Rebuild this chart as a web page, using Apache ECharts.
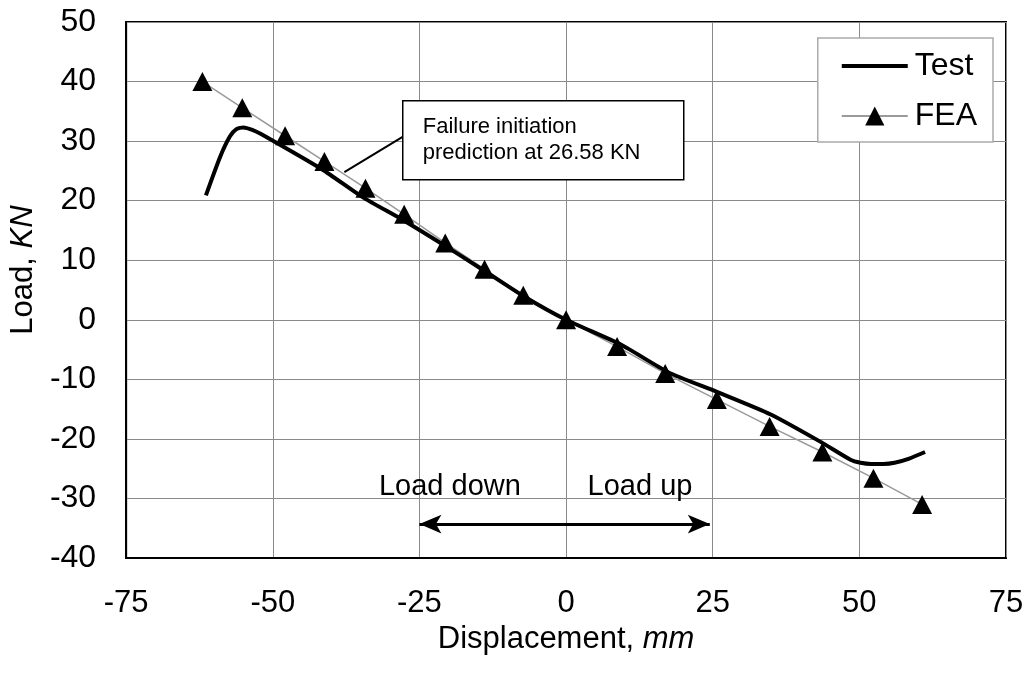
<!DOCTYPE html>
<html>
<head>
<meta charset="utf-8">
<script src="https://cdn.jsdelivr.net/npm/echarts@6/dist/echarts.min.js"></script>
<style>
html,body{margin:0;padding:0;background:#fff;}
#chart{width:1034px;height:675px;}
</style>
</head>
<body>
<div id="chart"></div>
<script>
// ---- data ----
const feaX = [-62, -55.2, -47.9, -41.2, -34.2, -27.6, -20.6, -13.9, -7.3, 0, 8.7, 16.9, 25.7, 34.7, 43.7, 52.4, 60.7];
const feaY = [40, 35.6, 30.9, 26.58, 22.1, 17.7, 12.9, 8.5, 4.1, 0, -4.5, -9.0, -13.4, -17.9, -22.2, -26.6, -31.0];
const testX = [-61.4, -59, -57.3, -56.2, -55, -53.5, -52, -41.5, -34.7, -27.9, -20.6, -13.9, -7.3, 0, 9.4, 17.4, 25.7, 34.9, 43.4, 48.5, 50.2, 52, 54.1, 56, 58.5, 61.2];
const testY = [20.9, 27.3, 30.8, 32.0, 32.3, 31.9, 31.2, 25.2, 20.6, 16.8, 12.4, 8.2, 4.0, 0, -4.2, -8.8, -12.1, -15.9, -20.5, -23.5, -24.0, -24.2, -24.2, -24.0, -23.3, -22.2];
const xTicks = [-75, -50, -25, 0, 25, 50, 75];
const yTicks = [-40, -30, -20, -10, 0, 10, 20, 30, 40, 50];
const leaderLine = [[-37.8, 24.8], [-25.9, 31.9]];
const loadArrow = [[-25, -34.3], [24.5, -34.3]];
const loadLabels = [{text: 'Load down', x: -19.8, y: -28.1}, {text: 'Load up', x: 12.6, y: -28.1}];
const annotation = ['Failure initiation', 'prediction at 26.58 KN'];

const FONT = 'Liberation Sans, Arial, sans-serif';
const chart = echarts.init(document.getElementById('chart'));

const option = {
  backgroundColor: '#fff',
  animation: false,
  textStyle: {fontFamily: FONT, color: '#000'},
  grid: {left: 123, right: 28, top: 22, bottom: 117, show: true, borderColor: '#000', borderWidth: 2},
  legend: {
    data: [
      {name: 'Test', itemStyle: {opacity: 0}, lineStyle: {color: '#000', width: 4}},
      {name: 'FEA'}
    ],
    orient: 'vertical',
    right: 41, top: 38,
    padding: [12, 16, 10, 22],
    itemGap: 18,
    itemWidth: 66, itemHeight: 24,
    backgroundColor: '#fff',
    borderColor: '#aaa', borderWidth: 1.5,
    textStyle: {fontSize: 32, fontFamily: FONT, color: '#000', padding: [0, 0, 0, 2]}
  },
  xAxis: {
    type: 'value', min: -75, max: 75, interval: 25,
    name: 'Displacement, {i|mm}', nameLocation: 'middle', nameGap: 62,
    nameTextStyle: {fontSize: 31, fontFamily: FONT, color: '#000', rich: {i: {fontSize: 31, fontStyle: 'italic', fontFamily: FONT}}},
    axisLine: {show: true, onZero: false, lineStyle: {color: '#000', width: 2}},
    axisTick: {show: false},
    axisLabel: {fontSize: 31, margin: 30, color: '#000', fontFamily: FONT,
      formatter: v => xTicks.includes(v) ? String(v) : ''},
    splitLine: {show: true, lineStyle: {color: '#8a8a8a', width: 1}}
  },
  yAxis: {
    type: 'value', min: -40, max: 50, interval: 10,
    name: 'Load, {i|KN}', nameLocation: 'middle', nameGap: 76, nameRotate: 90,
    nameTextStyle: {fontSize: 31, fontFamily: FONT, color: '#000', padding: [0, 0, 0, 40], rich: {i: {fontSize: 31, fontStyle: 'italic', fontFamily: FONT}}},
    axisLine: {show: true, onZero: false, lineStyle: {color: '#000', width: 2}},
    axisTick: {show: false},
    axisLabel: {fontSize: 32, margin: 30, color: '#000', fontFamily: FONT,
      formatter: v => yTicks.includes(v) ? String(v) : ''},
    splitLine: {show: true, lineStyle: {color: '#8a8a8a', width: 1}}
  },
  series: [
    {
      name: 'FEA', type: 'line',
      data: feaX.map((x, i) => [x, feaY[i]]),
      symbol: 'triangle', symbolSize: [20, 19],
      itemStyle: {color: '#000'},
      lineStyle: {color: '#9a9a9a', width: 1.5},
      z: 3
    },
    {
      name: 'Test', type: 'line',
      data: testX.map((x, i) => [x, testY[i]]),
      symbol: 'none', smooth: 0.2,
      lineStyle: {color: '#000', width: 4},
      itemStyle: {color: '#000'},
      z: 4,
      markLine: {
        silent: true, symbol: ['none', 'none'], animation: false,
        lineStyle: {color: '#000', width: 2, type: 'solid'},
        label: {show: false},
        data: [[{coord: leaderLine[0]}, {coord: leaderLine[1]}]]
      }
    },
    {
      name: 'arrow', type: 'line', data: [],
      markLine: {
        silent: true, symbol: ['arrow', 'arrow'], symbolSize: [14, 22], animation: false,
        lineStyle: {color: '#000', width: 3, type: 'solid'},
        itemStyle: {color: '#000'},
        label: {show: false},
        data: [[{coord: loadArrow[0]}, {coord: loadArrow[1]}]]
      },
      markPoint: {
        silent: true, symbol: 'circle', symbolSize: 0, animation: false,
        label: {show: true, position: 'inside', fontSize: 29, color: '#000', fontFamily: FONT,
          formatter: p => p.name},
        data: loadLabels.map(d => ({name: d.text, coord: [d.x, d.y]}))
      }
    }
  ],
  graphic: [
    {
      type: 'group', left: 402, top: 100,
      children: [
        {type: 'rect', shape: {x: 0, y: 0, width: 281, height: 79},
         style: {fill: '#fff', stroke: '#000', lineWidth: 1.5}, z: 10},
        {type: 'text', left: 20, top: 13, z: 11,
         style: {text: annotation.join('\n'), font: '22px ' + FONT, fill: '#000', lineHeight: 26}}
      ]
    }
  ]
};
chart.setOption(option);
</script>
</body>
</html>
